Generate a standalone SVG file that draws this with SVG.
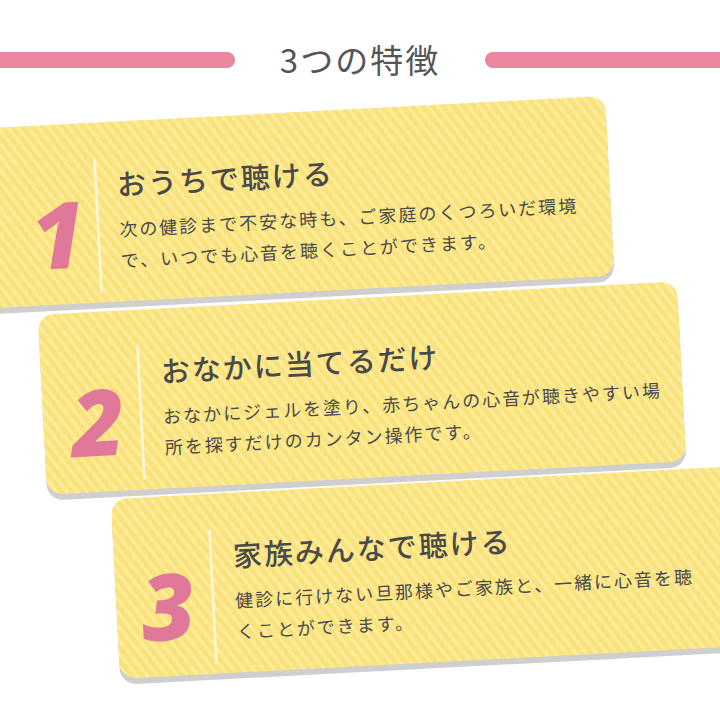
<svg xmlns="http://www.w3.org/2000/svg" width="720" height="720" viewBox="0 0 720 720">
<defs>
<pattern id="st" width="8" height="8" patternUnits="userSpaceOnUse" patternTransform="rotate(-35)">
<rect width="8" height="8" fill="#fbe37c"/><rect width="3" height="8" fill="#fdeb9e"/>
</pattern>
</defs>
<style>
.card{fill:url(#st)}.sh{fill:#cfcfcf}
.num{font-family:"Noto Sans","DejaVu Sans",sans-serif;font-weight:900;font-style:italic;font-size:92px;fill:#e0789a}
.t{font-family:"Noto Sans CJK JP",sans-serif;font-weight:500;font-size:29px;fill:#4a4a4a;letter-spacing:2px}
.b{font-family:"Noto Sans CJK JP",sans-serif;font-size:18px;fill:#4a4a4a;letter-spacing:2px}
.dv{stroke:#fff8d8;stroke-width:2.5}
</style>
<rect width="720" height="720" fill="#fff"/>
<g id="header">
<rect x="-10" y="52" width="245" height="16" rx="8" fill="#e8879f"/>
<rect x="485" y="52" width="245" height="16" rx="8" fill="#e8879f"/>
<text x="360" y="73" text-anchor="middle" font-family="Noto Sans CJK JP,sans-serif" font-size="33" fill="#555" letter-spacing="2">3つの特徴</text>
</g>
<g id="card1" transform="rotate(-3 300 200)">
<rect class="sh" x="-30" y="118" width="640" height="180" rx="16"/>
<rect class="card" x="-30" y="112" width="640" height="180" rx="16"/>
<text class="num" x="30" y="256">1</text>
<line class="dv" x1="97" y1="148" x2="97" y2="282"/>
<text class="t" x="118" y="186">おうちで聴ける</text>
<text class="b" x="118" y="227">次の健診まで不安な時も、ご家庭のくつろいだ環境</text>
<text class="b" x="118" y="258">で、いつでも心音を聴くことができます。</text>
</g>
<g id="card2" transform="rotate(-3 362 388)">
<rect class="sh" x="42" y="304" width="640" height="180" rx="16"/>
<rect class="card" x="42" y="298" width="640" height="180" rx="16"/>
<text class="num" x="70" y="442">2</text>
<line class="dv" x1="140" y1="334" x2="140" y2="468"/>
<text class="t" x="162" y="372">おなかに当てるだけ</text>
<text class="b" x="162" y="413">おなかにジェルを塗り、赤ちゃんの心音が聴きやすい場</text>
<text class="b" x="162" y="444">所を探すだけのカンタン操作です。</text>
</g>
<g id="card3" transform="rotate(-3 437 572)">
<rect class="sh" x="115" y="488" width="650" height="180" rx="16"/>
<rect class="card" x="115" y="482" width="650" height="180" rx="16"/>
<text class="num" x="140" y="626">3</text>
<line class="dv" x1="212" y1="518" x2="212" y2="652"/>
<text class="t" x="234" y="556">家族みんなで聴ける</text>
<text class="b" x="234" y="597">健診に行けない旦那様やご家族と、一緒に心音を聴</text>
<text class="b" x="234" y="628">くことができます。</text>
</g>
</svg>
